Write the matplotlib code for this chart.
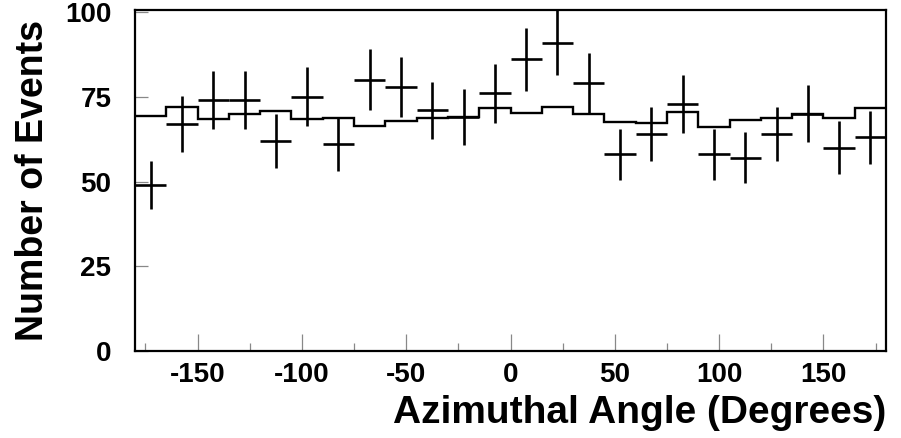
import numpy as np
import matplotlib
matplotlib.use("Agg")
import matplotlib.pyplot as plt

# Azimuthal angle distribution: observed counts per 15-degree bin and expectation
bin_edges = np.arange(-180, 181, 15)
observed = [49, 67, 74, 74, 62, 75, 61, 80, 78, 71, 69, 76,
            86, 91, 79, 58, 64, 73, 58, 57, 64, 70, 60, 63]
expected = [69.3, 72.1, 68.3, 69.8, 70.8, 68.3, 68.8, 66.4, 67.8, 68.6, 69.1, 71.8,
            70.3, 72.0, 69.8, 67.5, 67.4, 70.6, 66.1, 68.0, 68.8, 69.8, 68.8, 71.6]
x_ticks = [-150, -100, -50, 0, 50, 100, 150]
y_ticks = [0, 25, 50, 75, 100]

plt.rcParams['font.family'] = ['Liberation Sans', 'DejaVu Sans']
plt.rcParams['font.weight'] = 'bold'
plt.rcParams['axes.unicode_minus'] = False

fig = plt.figure(figsize=(9.01, 4.38), dpi=100)
ax = fig.add_axes([0.1498, 0.1986, 0.8336, 0.7786])

centers = 0.5 * (bin_edges[:-1] + bin_edges[1:])
half_width = 0.5 * np.diff(bin_edges)
obs = np.array(observed, dtype=float)

ax.stairs(expected, bin_edges, baseline=None, color='black', linewidth=1.7)
ax.errorbar(centers, obs, yerr=np.sqrt(obs), xerr=half_width, fmt='none',
            ecolor='black', elinewidth=1.9, capsize=0)

ax.set_xlim(-180, 180)
ax.set_ylim(0, 100.6)
ax.set_xticks(x_ticks)
ax.set_yticks(y_ticks)
ax.set_xticks(np.arange(-175, 180, 50), minor=True)

ax.tick_params(axis='both', which='both', direction='in', colors='#888888',
               labelcolor='black', labelsize=20, width=0.9)
ax.tick_params(axis='x', which='major', length=12, pad=8)
ax.tick_params(axis='x', which='minor', length=6)
ax.tick_params(axis='y', which='major', length=9, pad=17)
ax.tick_params(top=False, right=False)

for lbl in ax.get_xticklabels() + ax.get_yticklabels():
    lbl.set_fontweight('bold')

for side in ax.spines.values():
    side.set_linewidth(1.6)
    side.set_color('black')

ax.set_xlabel('Azimuthal Angle (Degrees)', fontsize=28, fontweight='bold',
              loc='right', labelpad=5)
ax.set_ylabel('Number of Events', fontsize=27, fontweight='bold', labelpad=10)

fig.savefig('out.png', dpi=100)
